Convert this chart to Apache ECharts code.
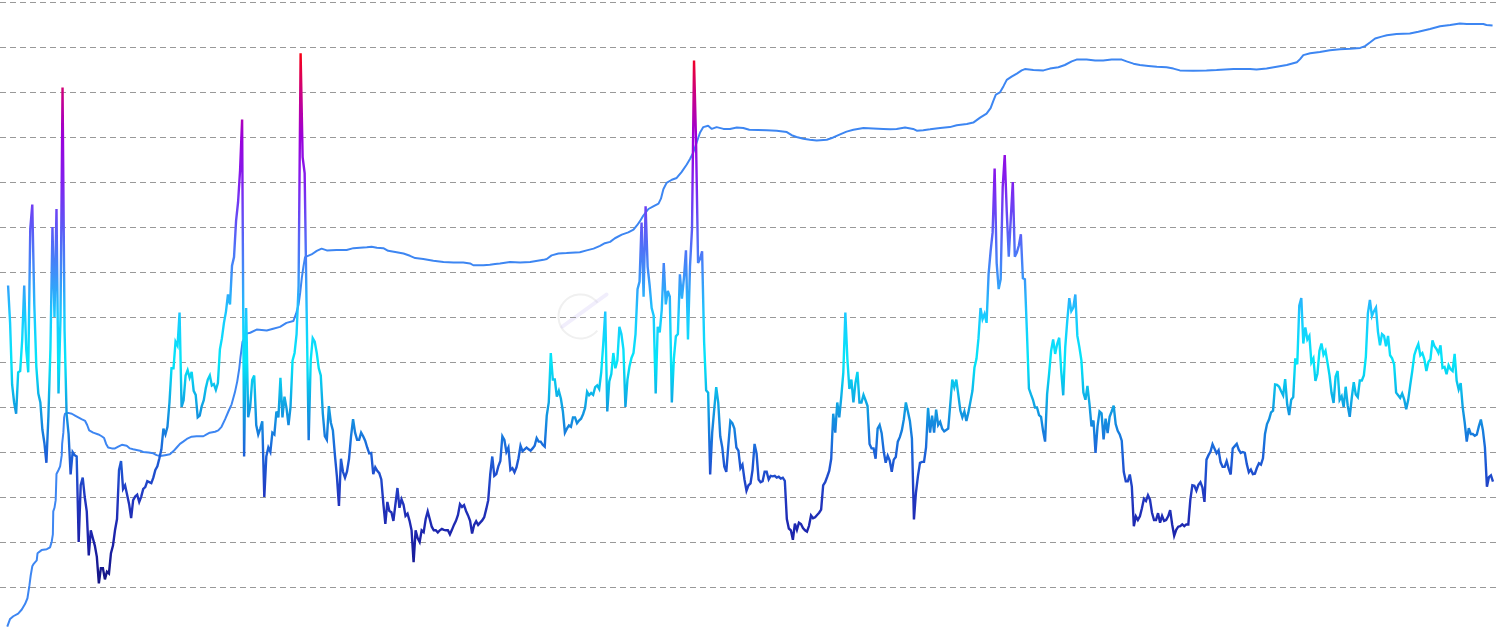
<!DOCTYPE html>
<html>
<head>
<meta charset="utf-8">
<script src="https://cdn.jsdelivr.net/npm/echarts@6/dist/echarts.min.js"></script>
<style>
html,body{margin:0;padding:0;background:#fff;}
#chart{width:1500px;height:633px;}
</style>
</head>
<body>
<div id="chart"></div>
<script>
// x unit: half-month periods since Oct 2010 (samples every 0.5 period, ~weekly)
// y unit: axis units 0..14 (one per gridline)
const segStart = [2, 62, 124, 186, 248, 310];

const oscA = [
7.7, 6.87, 5.5, 5.1, 4.85, 5.77, 5.8, 6.49, 7.7, 6.28,
5.77, 8.96, 9.5, 7.28, 5.9, 5.3, 5.1, 4.5, 4.2, 3.76,
4.8, 6.3, 9.0, 7.0, 9.4, 5.3, 7.0, 12.1, 6.7, 4.85,
4.4, 3.5, 4.0, 3.93, 3.9, 2.0, 3.26, 3.43, 3.0, 2.68,
1.7, 2.26, 2.09, 1.92, 1.67, 1.08, 1.42, 1.42, 1.17, 1.34,
1.3, 1.75, 1.92, 2.26, 2.51, 3.6, 3.8, 3.18, 3.26, 3.05,
2.84, 2.53, 2.93, 3.01, 3.05, 2.89, 3.01, 3.18, 3.22, 3.35,
3.33, 3.31, 3.43, 3.6, 3.68, 3.86, 4.06, 4.52, 4.39, 4.56,
5.1, 5.86, 5.86, 6.45, 6.36, 7.1, 5.0, 5.15, 5.7, 5.82,
5.65, 5.78, 5.36, 5.27, 4.77, 4.81, 5.02, 5.15, 5.42, 5.61,
5.7, 5.48, 5.51, 5.38, 5.53, 6.28, 6.53, 6.87, 7.12, 7.5,
7.28, 8.14, 8.33, 9.13, 9.55, 10.26, 11.39, 3.9, 7.2, 4.77
];
const oscB = [
5.0, 5.6, 5.7, 4.6, 4.39, 4.52, 4.68, 3.0, 3.9, 4.1,
4.0, 4.43, 4.39, 4.9, 4.77, 5.65, 4.77, 5.23, 4.98, 4.6,
5.0, 6.03, 6.2, 6.62, 7.7, 12.86, 10.55, 10.2, 7.1, 4.26,
6.03, 6.53, 6.45, 6.2, 5.86, 5.7, 4.86, 4.35, 4.27, 5.02,
4.65, 4.48, 3.93, 3.45, 2.8, 3.85, 3.56, 3.43, 3.57, 3.85,
4.35, 4.73, 4.43, 4.27, 4.27, 4.43, 4.35, 4.25, 4.1, 3.97,
3.98, 3.51, 3.66, 3.58, 3.53, 3.39, 2.86, 2.4, 2.89, 2.69,
2.66, 2.47, 2.84, 3.2, 2.76, 2.95, 2.83, 2.58, 2.63, 2.47,
2.26, 1.55, 2.26, 2.09, 2.0, 2.26, 2.22, 2.51, 2.68, 2.51,
2.34, 2.26, 2.26, 2.21, 2.26, 2.29, 2.27, 2.26, 2.26, 2.17,
2.27, 2.38, 2.47, 2.6, 2.84, 2.78, 2.82, 2.69, 2.59, 2.47,
2.19, 2.38, 2.46, 2.38, 2.43, 2.48, 2.55, 2.73, 2.93, 3.51,
3.9, 3.47, 3.51, 3.68
];
const oscC = [
3.8, 4.35, 4.27, 4.0, 4.1, 3.6, 3.64, 3.55, 3.66, 3.86,
4.14, 4.02, 4.06, 4.1, 4.06, 4.03, 4.08, 4.14, 4.31, 4.23,
4.23, 4.16, 4.12, 4.81, 5.1, 6.2, 5.61, 5.61, 5.23, 5.36,
5.19, 4.9, 4.43, 4.52, 4.59, 4.56, 4.77, 4.77, 4.64, 4.7,
4.74, 4.84, 4.98, 5.34, 5.26, 5.31, 5.27, 5.44, 5.48, 5.4,
5.77, 6.4, 7.12, 4.9, 5.57, 5.73, 6.2, 5.86, 6.03, 6.78,
6.62, 6.28, 5.0, 5.61, 5.9, 6.09, 6.2, 6.62, 7.62, 7.79,
9.1, 7.45, 9.46, 8.12, 7.7, 7.2, 7.03, 5.3, 6.78, 6.66,
7.16, 8.2, 7.28, 7.58, 7.45, 5.1, 6.07, 6.57, 6.62, 7.95,
7.41, 7.87, 8.48, 6.5, 8.12, 8.96, 12.7, 10.9, 8.2, 8.29,
8.46, 6.45, 5.37, 5.32, 3.5, 4.43, 4.94, 5.44, 5.1, 4.35,
4.1, 3.68, 3.56, 4.14, 4.69, 4.64, 4.52, 4.1, 4.03, 3.64,
3.72, 3.39, 3.14, 3.26
];
const oscD = [
3.3, 3.6, 4.18, 3.97, 3.39, 3.33, 3.35, 3.56, 3.56, 3.39,
3.47, 3.46, 3.47, 3.43, 3.45, 3.41, 3.43, 3.36, 2.51, 2.3,
2.26, 2.05, 2.41, 2.27, 2.43, 2.4, 2.31, 2.26, 2.23, 2.36,
2.59, 2.53, 2.55, 2.6, 2.65, 2.72, 3.26, 3.33, 3.45, 3.58,
3.85, 4.85, 4.43, 5.1, 4.77, 5.23, 5.77, 7.1, 6.07, 5.4,
5.61, 5.1, 5.53, 5.78, 5.1, 5.1, 5.27, 5.15, 5.02, 4.18,
4.08, 4.08, 3.85, 4.52, 4.6, 4.42, 4.02, 3.76, 3.92, 3.81,
3.56, 3.83, 3.89, 4.23, 4.33, 4.48, 4.73, 5.1, 4.9, 4.69,
4.3, 2.5, 3.1, 3.47, 3.76, 3.78, 3.78, 4.1, 4.98, 4.43,
4.81, 4.43, 4.94, 4.6, 4.67, 4.52, 4.46, 4.49, 4.52, 5.06,
5.61, 5.44, 5.61, 5.27, 4.92, 4.77, 4.9, 4.69, 4.88, 5.12,
5.36, 5.88, 6.07, 6.53, 7.2, 6.95, 7.07, 6.87, 7.95, 8.46,
8.88, 10.3, 8.2, 7.62
];
const oscE = [
7.84, 9.89, 10.6, 9.35, 8.34, 9.18, 10.0, 8.34, 8.43, 8.59,
8.84, 7.86, 7.84, 6.67, 5.41, 5.28, 5.16, 4.99, 4.99, 4.82,
4.78, 4.47, 4.23, 5.28, 5.74, 6.25, 6.5, 6.18, 6.4, 6.54,
5.8, 5.26, 6.33, 6.92, 7.42, 7.13, 7.21, 7.5, 6.58, 6.33,
6.04, 5.32, 5.16, 5.47, 5.07, 4.57, 4.7, 3.98, 4.57, 4.9,
4.86, 4.28, 4.74, 4.42, 4.78, 4.9, 5.03, 4.62, 4.47, 4.39,
4.25, 3.56, 3.35, 3.35, 3.5, 3.23, 2.35, 2.57, 2.49, 2.57,
2.75, 2.96, 2.91, 3.04, 2.94, 2.65, 2.49, 2.49, 2.64, 2.43,
2.58, 2.47, 2.49, 2.57, 2.71, 2.39, 2.14, 2.27, 2.34, 2.35,
2.39, 2.35, 2.39, 2.39, 2.94, 3.26, 3.25, 3.14, 3.27, 3.33,
3.21, 2.89, 3.83, 3.93, 4.01, 4.17, 4.07, 3.97, 4.04, 3.77,
3.67, 3.67, 3.8, 3.63, 3.5, 4.08, 4.13, 4.18, 4.05, 3.98,
4.0, 3.98, 3.73, 3.55
];
const oscF = [
3.61, 3.51, 3.52, 3.65, 3.75, 3.72, 3.86, 4.4, 4.62, 4.72,
4.88, 4.92, 5.5, 5.49, 5.45, 5.35, 5.26, 5.62, 5.06, 4.82,
5.16, 5.22, 6.08, 5.95, 7.25, 7.42, 6.41, 6.77, 6.5, 6.58,
5.99, 6.08, 5.58, 5.74, 6.25, 6.41, 6.16, 6.25, 5.98, 5.7,
5.31, 5.09, 5.68, 5.8, 5.16, 5.24, 5.0, 5.45, 5.03, 4.78,
5.2, 5.55, 5.28, 5.22, 5.59, 5.59, 5.7, 6.12, 7.08, 7.38,
7.02, 7.13, 7.21, 6.67, 6.37, 6.62, 6.58, 6.35, 6.58, 6.15,
6.08, 5.95, 5.32, 5.26, 5.2, 5.3, 5.17, 4.95, 5.16, 5.49,
5.8, 6.15, 6.29, 6.4, 6.15, 6.2, 6.06, 5.8, 6.0, 6.06,
6.48, 6.35, 6.29, 6.2, 6.37, 5.87, 5.89, 5.73, 5.93, 5.84,
5.8, 6.18, 5.58, 5.39, 5.53, 4.99, 4.65, 4.23, 4.53, 4.4,
4.4, 4.36, 4.39, 4.57, 4.72, 4.49, 4.11, 3.23, 3.44, 3.48,
3.34
];

// slow trend line: [period, value]
const trend = [
[1.8,0.12],[2.5,0.29],[3.3,0.35],[4.5,0.41],[5.4,0.5],[6.2,0.62],[6.8,0.75],[7.3,1.04],[7.6,1.25],[8.0,1.46],[8.4,1.52],[9.1,1.59],[9.3,1.75],[10.3,1.82],[11.6,1.84],[12.4,1.88],[12.8,2.0],[13.1,2.17],[13.2,2.68],[13.5,2.76],[13.8,2.93],[14.0,3.51],[14.5,3.6],[14.9,3.68],[15.3,3.93],[15.4,4.18],[15.7,4.43],[15.9,4.77],[16.1,4.85],[16.9,4.87],[17.8,4.85],[18.6,4.81],[19.4,4.77],[20.2,4.73],[21.1,4.69],[21.6,4.6],[22.1,4.48],[23.1,4.43],[24.4,4.39],[25.2,4.35],[25.8,4.31],[26.3,4.18],[26.8,4.1],[27.7,4.08],[28.5,4.08],[29.3,4.12],[30.2,4.16],[31.4,4.14],[32.2,4.08],[33.0,4.06],[34.7,4.03],[35.5,4.0],[36.8,3.99],[38.0,3.97],[38.8,3.93],[39.7,3.91],[40.9,3.93],[42.1,3.95],[43.0,4.02],[43.8,4.1],[44.6,4.18],[45.4,4.23],[46.3,4.29],[47.5,4.34],[48.7,4.35],[50.4,4.35],[51.2,4.39],[52.0,4.43],[53.3,4.45],[54.1,4.48],[54.9,4.56],[55.8,4.73],[56.6,4.9],[57.4,5.06],[58.2,5.32],[58.8,5.57],[59.3,5.86],[59.6,6.11],[60.1,6.45],[60.6,6.53],[61.1,6.63],[62.0,6.65],
[63.6,6.72],[66.1,6.7],[67.7,6.74],[69.4,6.78],[71.0,6.87],[72.7,6.91],[73.4,7.08],[74.0,7.28],[74.4,7.54],[74.8,7.87],[75.2,8.12],[75.6,8.33],[76.0,8.37],[77.2,8.39],[78.5,8.47],[79.7,8.52],[81.0,8.48],[83.4,8.49],[85.9,8.49],[87.6,8.53],[89.2,8.54],[90.9,8.55],[92.1,8.56],[93.4,8.54],[95.0,8.53],[96.2,8.47],[98.3,8.44],[100.0,8.41],[101.6,8.36],[102.9,8.31],[104.9,8.29],[107.4,8.25],[109.9,8.22],[112.4,8.21],[114.8,8.21],[116.5,8.19],[117.3,8.15],[119.8,8.15],[121.4,8.16],[122.7,8.18],[123.9,8.19],
[126.4,8.22],[128.9,8.21],[131.4,8.22],[134.7,8.27],[135.5,8.29],[136.7,8.37],[138.4,8.41],[140.4,8.42],[143.7,8.44],[145.4,8.48],[147.1,8.52],[148.7,8.58],[149.9,8.64],[151.2,8.67],[152.4,8.75],[154.1,8.83],[155.7,8.88],[157.0,8.94],[157.9,9.04],[158.6,9.13],[159.4,9.25],[160.7,9.4],[161.9,9.46],[163.2,9.52],[163.8,9.63],[164.4,9.84],[165.2,9.98],[166.5,10.05],[167.7,10.09],[168.9,10.22],[170.2,10.39],[171.0,10.51],[171.8,10.65],[172.7,10.89],[173.5,11.1],[174.3,11.22],[175.5,11.25],[176.4,11.18],[177.6,11.22],[179.3,11.18],[180.9,11.18],[182.6,11.21],[184.2,11.2],[185.7,11.16],
[190.0,11.15],[192.5,11.14],[195.0,11.11],[196.2,11.04],[197.4,11.0],[199.1,10.96],[200.7,10.94],[202.4,10.92],[204.9,10.94],[206.5,10.99],[208.2,11.06],[209.8,11.12],[211.5,11.16],[214.0,11.2],[216.4,11.19],[218.9,11.18],[220.6,11.17],[222.2,11.18],[224.3,11.21],[226.3,11.18],[227.2,11.14],[228.8,11.15],[230.5,11.17],[233.0,11.2],[235.4,11.22],[237.1,11.26],[239.6,11.29],[241.2,11.32],[242.9,11.43],[244.5,11.52],[245.5,11.64],[246.2,11.81],[246.8,11.94],[247.8,11.99],
[248.7,12.13],[249.5,12.27],[250.7,12.34],[252.0,12.41],[253.2,12.48],[254.0,12.51],[256.1,12.49],[258.6,12.48],[260.2,12.52],[262.3,12.55],[263.9,12.6],[265.6,12.68],[266.8,12.72],[269.3,12.72],[271.4,12.7],[273.4,12.7],[275.5,12.72],[278.0,12.72],[279.2,12.68],[280.9,12.63],[282.5,12.6],[284.6,12.58],[286.7,12.56],[289.1,12.55],[290.8,12.52],[292.4,12.48],[295.7,12.47],[299.0,12.48],[301.5,12.49],[305.7,12.51],[309.8,12.51],
[311.4,12.5],[313.9,12.52],[316.4,12.56],[318.9,12.6],[321.4,12.66],[322.2,12.73],[323.0,12.82],[324.7,12.86],[327.1,12.89],[329.6,12.93],[332.1,12.95],[334.6,12.96],[337.1,12.98],[338.3,13.02],[339.5,13.1],[340.8,13.19],[342.4,13.23],[343.7,13.26],[346.1,13.29],[349.4,13.3],[351.5,13.34],[354.4,13.4],[356.9,13.46],[359.4,13.49],[361.8,13.52],[363.5,13.51],[367.6,13.51],[368.4,13.49],[369.9,13.48]
];

const colorStops = ['#12127f','#1b21a8','#2237c0','#1c64da','#10a0e2','#04e6f8','#18ccff','#3f8ef8','#5e58f6','#8120ef','#9b00da','#cc0080','#ff0000'];

const oscData = [];
[oscA, oscB, oscC, oscD, oscE, oscF].forEach((seg, s) => {
  seg.forEach((v, i) => oscData.push([segStart[s] + i / 2, v]));
});

const chart = echarts.init(document.getElementById('chart'), null, {renderer:'canvas'});
chart.setOption({
  animation:false,
  backgroundColor:'#ffffff',
  grid:{left:0,right:3,top:2,bottom:1,containLabel:false},
  xAxis:{type:'value',min:0,max:371,axisLine:{show:false},axisTick:{show:false},axisLabel:{show:false},splitLine:{show:false}},
  yAxis:{type:'value',min:0,max:14,interval:1,axisLine:{show:false},axisTick:{show:false},axisLabel:{show:false},
    splitLine:{show:true,showMinLine:false,lineStyle:{color:'#999',width:1,type:[6,4]}}},
  visualMap:{type:'continuous',show:false,seriesIndex:1,dimension:1,min:1,max:13,inRange:{color:colorStops}},
  graphic:[{type:'group',left:556,top:292,silent:true,children:[
    {type:'arc',shape:{cx:30,cy:24,r:22,startAngle:0.7,endAngle:5.6},style:{stroke:'#f0f0f0',lineWidth:2,fill:null}},
    {type:'line',shape:{x1:12,y1:34,x2:56,y2:2},style:{stroke:'rgba(210,200,245,0.3)',lineWidth:4,lineCap:'round'}}
  ]}],
  series:[
    {type:'line',data:trend,showSymbol:false,lineStyle:{color:'#3d86f2',width:2},z:2},
    {type:'line',data:oscData,showSymbol:false,lineStyle:{width:2.4,join:'miter',miterLimit:4},z:3}
  ]
});
</script>
</body>
</html>
